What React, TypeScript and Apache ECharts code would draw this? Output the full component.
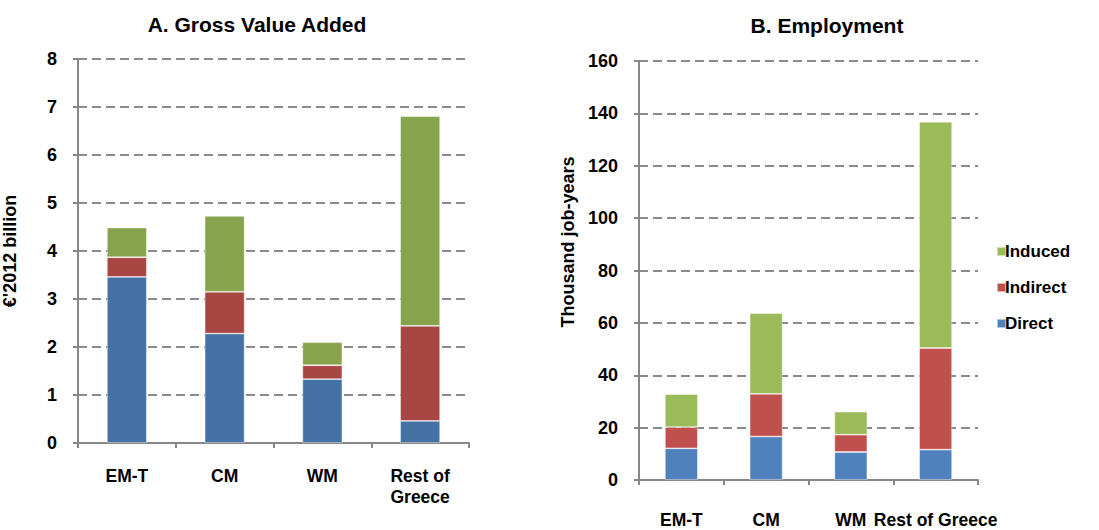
import React, { useEffect, useRef } from "react";
import * as echarts from "echarts";

const categoriesA = ["EM-T", "CM", "WM", "Rest of\nGreece"];
const categoriesB = ["EM-T", "CM", "WM", "Rest of Greece"];
const seriesNames = ["Direct", "Indirect", "Induced"];

// A. Gross Value Added (€'2012 billion)
const gvaDirect = [3.46, 2.28, 1.33, 0.46];
const gvaIndirect = [0.41, 0.87, 0.29, 1.98];
const gvaInduced = [0.62, 1.58, 0.48, 4.37];

// B. Employment (thousand job-years)
const empDirect = [12.1, 16.6, 10.7, 11.6];
const empIndirect = [8.1, 16.3, 6.6, 38.8];
const empInduced = [12.6, 30.8, 8.8, 86.4];

const yTicksA = { min: 0, max: 8, interval: 1 };
const yTicksB = { min: 0, max: 160, interval: 20 };

const colorsA = ["#4572A5", "#A84644", "#87A44D"];
const colorsB = ["#4F81BD", "#C0504D", "#9BBB59"];

const FONT = "'Liberation Sans', Arial, sans-serif";
const AXIS_GRAY = "#878787";

export default function App() {
  const ref = useRef<HTMLDivElement | null>(null);

  useEffect(() => {
    if (!ref.current) return;
    const chart = echarts.init(ref.current, undefined, { renderer: "svg" });

    const baseText = { fontFamily: FONT, fontWeight: "bold" as const, color: "#000" };

    const xAxisCommon = (idx: number, data: string[], margin: number) => ({
      type: "category",
      gridIndex: idx,
      data,
      boundaryGap: true,
      axisLine: { show: true, lineStyle: { color: AXIS_GRAY, width: 2 } },
      axisTick: { show: true, length: 5, lineStyle: { color: AXIS_GRAY, width: 2 } },
      axisLabel: { ...baseText, fontSize: 17.5, interval: 0, margin, lineHeight: 21 },
      splitLine: { show: false },
    });

    const yAxisCommon = (idx: number, t: { min: number; max: number; interval: number }) => ({
      type: "value",
      gridIndex: idx,
      min: t.min,
      max: t.max,
      interval: t.interval,
      axisLine: { show: true, lineStyle: { color: AXIS_GRAY, width: 2 } },
      axisTick: { show: true, length: 5, lineStyle: { color: AXIS_GRAY, width: 2 } },
      axisLabel: { ...baseText, fontSize: 18, margin: 21 },
      splitLine: {
        show: true,
        lineStyle: { color: "#8a8a8a", width: 2, type: [9, 5] },
      },
    });

    const mkSeries = (
      idx: number,
      stack: string,
      arrays: number[][],
      colors: string[],
      barWidth: number
    ) =>
      arrays.map((arr, i) => ({
        type: "bar",
        name: seriesNames[i],
        xAxisIndex: idx,
        yAxisIndex: idx,
        stack,
        barWidth,
        data: arr,
        itemStyle: {
          color: colors[i],
          borderColor: "rgba(255,255,255,0.55)",
          borderWidth: 0.8,
        },
      }));

    chart.setOption({
      animation: false,
      backgroundColor: "#fff",
      title: [
        {
          text: "A. Gross Value Added",
          left: 252,
          top: 9,
          textAlign: "center",
          textStyle: { ...baseText, fontSize: 21 },
        },
        {
          text: "B. Employment",
          left: 822,
          top: 10,
          textAlign: "center",
          textStyle: { ...baseText, fontSize: 21 },
        },
      ],
      legend: {
        orient: "vertical",
        left: 991,
        top: 238,
        itemWidth: 9,
        itemHeight: 9,
        itemGap: 19,
        icon: "rect",
        selectedMode: false,
        textStyle: { ...baseText, fontSize: 17, padding: [0, 0, 0, -6] },
        data: [
          { name: "Induced", itemStyle: { color: colorsB[2] } },
          { name: "Indirect", itemStyle: { color: colorsB[1] } },
          { name: "Direct", itemStyle: { color: colorsB[0] } },
        ],
      },
      grid: [
        { left: 77, right: 1099 - 469, top: 59, bottom: 530 - 443, containLabel: false },
        { left: 639, right: 1099 - 978, top: 61, bottom: 530 - 480, containLabel: false },
      ],
      xAxis: [xAxisCommon(0, categoriesA, 22), xAxisCommon(1, categoriesB, 29)],
      yAxis: [
        {
          ...yAxisCommon(0, yTicksA),
          name: "€'2012 billion",
          nameLocation: "middle",
          nameGap: 59,
          nameTextStyle: { ...baseText, fontSize: 18 },
        },
        yAxisCommon(1, yTicksB),
      ],
      graphic: [
        {
          type: "text",
          x: 568,
          y: 242,
          rotation: Math.PI / 2,
          style: {
            text: "Thousand job-years",
            font: `bold 18px ${FONT}`,
            fill: "#000",
            textAlign: "center",
            textVerticalAlign: "middle",
          },
        },
      ],
      series: [
        ...mkSeries(0, "a", [gvaDirect, gvaIndirect, gvaInduced], colorsA, 40),
        ...mkSeries(1, "b", [empDirect, empIndirect, empInduced], colorsB, 33),
      ],
    });

    return () => chart.dispose();
  }, []);

  return (
    <div
      ref={ref}
      style={{ position: "fixed", left: 0, top: 0, width: 1099, height: 530, background: "#fff" }}
    />
  );
}
